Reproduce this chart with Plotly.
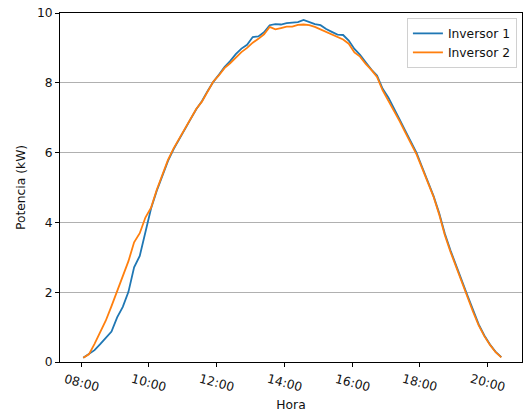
import plotly.graph_objects as go

# Power output of two inverters over one day (10-minute samples)
hora = [
    "08:04", "08:14", "08:24", "08:34", "08:44", "08:54",
    "09:04", "09:14", "09:24", "09:34", "09:44", "09:54",
    "10:04", "10:14", "10:24", "10:34", "10:44", "10:54",
    "11:04", "11:14", "11:24", "11:34", "11:44", "11:54",
    "12:04", "12:14", "12:24", "12:34", "12:44", "12:54",
    "13:04", "13:14", "13:24", "13:34", "13:44", "13:54",
    "14:04", "14:14", "14:24", "14:34", "14:44", "14:54",
    "15:04", "15:14", "15:24", "15:34", "15:44", "15:54",
    "16:04", "16:14", "16:24", "16:34", "16:44", "16:54",
    "17:04", "17:14", "17:24", "17:34", "17:44", "17:54",
    "18:04", "18:14", "18:24", "18:34", "18:44", "18:54",
    "19:04", "19:14", "19:24", "19:34", "19:44", "19:54",
    "20:04", "20:14", "20:24",
]

inversor_1 = [
    0.12, 0.22, 0.34, 0.51, 0.70, 0.87, 1.28, 1.58, 2.01, 2.71,
    3.04, 3.75, 4.40, 4.90, 5.36, 5.76, 6.10, 6.40, 6.68, 6.96,
    7.24, 7.47, 7.76, 8.02, 8.23, 8.45, 8.62, 8.82, 8.98, 9.09,
    9.31, 9.33, 9.45, 9.65, 9.68, 9.67, 9.71, 9.73, 9.74, 9.80,
    9.74, 9.68, 9.65, 9.54, 9.46, 9.38, 9.37, 9.21, 8.97, 8.80,
    8.59, 8.38, 8.21, 7.83, 7.58, 7.28, 6.95, 6.63, 6.30, 5.99,
    5.58, 5.17, 4.76, 4.27, 3.68, 3.20, 2.74, 2.34, 1.91, 1.47,
    1.08, 0.76, 0.50, 0.29, 0.14,
]

inversor_2 = [
    0.12, 0.22, 0.52, 0.85, 1.19, 1.60, 2.05, 2.46, 2.89, 3.43,
    3.69, 4.14, 4.42, 4.93, 5.38, 5.79, 6.12, 6.40, 6.70, 6.94,
    7.25, 7.46, 7.74, 8.03, 8.21, 8.42, 8.56, 8.72, 8.88, 9.00,
    9.15, 9.26, 9.39, 9.60, 9.53, 9.57, 9.61, 9.61, 9.66, 9.67,
    9.65, 9.60, 9.53, 9.47, 9.40, 9.31, 9.24, 9.12, 8.87, 8.75,
    8.54, 8.37, 8.17, 7.78, 7.50, 7.20, 6.90, 6.58, 6.27, 5.95,
    5.55, 5.14, 4.74, 4.23, 3.64, 3.16, 2.71, 2.30, 1.87, 1.44,
    1.05, 0.74, 0.49, 0.28, 0.13,
]

tick_labels = ["08:00", "10:00", "12:00", "14:00", "16:00", "18:00", "20:00"]
y_ticks = [0, 2, 4, 6, 8, 10]

dia = "2023-06-01 "
x = [dia + h for h in hora]
x_ticks = [dia + t for t in tick_labels]

FONT = "DejaVu Sans"
FS = 12.3
INK = "#111111"

fig = go.Figure()
fig.add_trace(go.Scatter(x=x, y=inversor_1, mode="lines", name="Inversor 1",
                         line=dict(color="#1f77b4", width=1.8)))
fig.add_trace(go.Scatter(x=x, y=inversor_2, mode="lines", name="Inversor 2",
                         line=dict(color="#ff7f0e", width=1.8)))

# Rotated time labels, centred under each tick
for t, lab in zip(x_ticks, tick_labels):
    fig.add_annotation(
        x=t, y=0, xref="x", yref="paper",
        text=lab, showarrow=False, textangle=15,
        xanchor="center", yanchor="middle", yshift=-21,
        font=dict(family=FONT, size=FS, color=INK),
    )

fig.update_layout(
    width=523, height=412,
    margin=dict(l=60, r=1, t=13, b=50),
    paper_bgcolor="white", plot_bgcolor="white",
    font=dict(family=FONT, size=FS, color=INK),
    showlegend=True,
    legend=dict(
        x=0.989, y=0.986, xanchor="right", yanchor="top",
        bgcolor="rgba(255,255,255,0.8)", bordercolor="#d0d0d0", borderwidth=1,
        font=dict(family=FONT, size=FS, color=INK),
    ),
)

fig.update_xaxes(
    type="date",
    range=[dia + "07:22:50", dia + "21:00:40"],
    tickmode="array", tickvals=x_ticks,
    showticklabels=False,
    ticks="outside", ticklen=4, tickwidth=1, tickcolor="black",
    showline=True, linecolor="black", linewidth=1, mirror=True,
    showgrid=False, zeroline=False,
    title=dict(text="Hora", standoff=35, font=dict(family=FONT, size=FS, color=INK)),
)

fig.update_yaxes(
    range=[0, 10],
    tickmode="array", tickvals=y_ticks,
    ticks="outside", ticklen=4, tickwidth=1, tickcolor="black",
    showline=True, linecolor="black", linewidth=1, mirror=True,
    showgrid=True, gridcolor="#b0b0b0", gridwidth=1, zeroline=False,
    title=dict(text="Potencia (kW)", standoff=8, font=dict(family=FONT, size=FS, color=INK)),
)

fig.write_html("out.html")
